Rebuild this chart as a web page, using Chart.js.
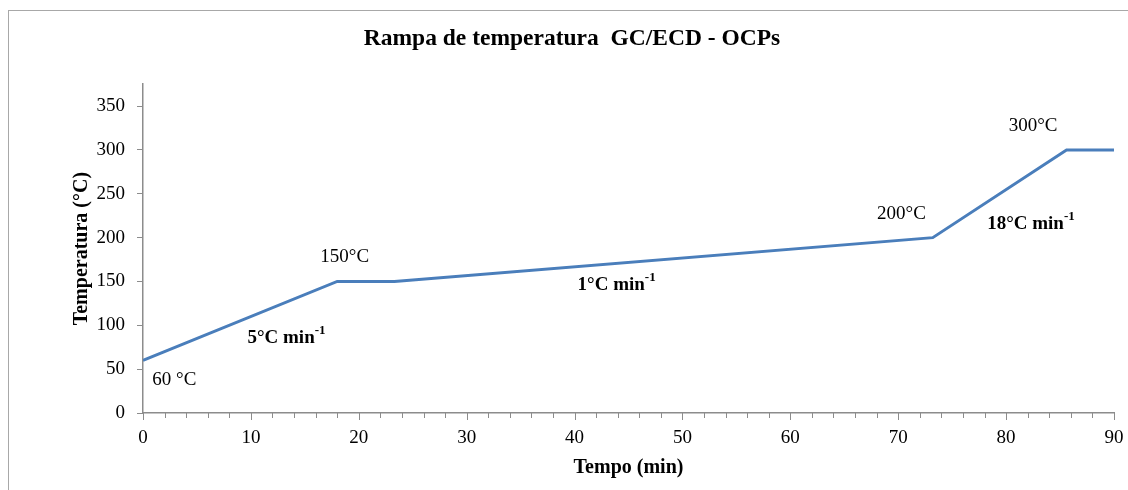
<!DOCTYPE html>
<html>
<head>
<meta charset="utf-8">
<script src="https://cdn.jsdelivr.net/npm/chart.js"></script>
<style>
  html, body { margin: 0; padding: 0; background: #fff; overflow: hidden; }
  #wrap { position: relative; width: 1128px; height: 490px; }
  #frame { position: absolute; left: 8px; top: 10px; width: 1200px; height: 600px; border: 1px solid #a8a8a8; }
  canvas { position: absolute; left: 0; top: 0; }
</style>
</head>
<body>
<div id="wrap">
  <div id="frame"></div>
  <canvas id="chart" width="1128" height="490"></canvas>
</div>
<script>
// temperature program of the oven
const timeMin = [0, 18, 23.3, 73.2, 85.6, 90];
const tempC = [60, 150, 150, 200, 300, 300];

// annotations along the ramp (text, superscript, bold, x in min, y in °C)
const noteText = ['60 °C', '5°C min', '150°C', '1°C min', '200°C', '18°C min', '300°C'];
const noteSup = ['', '-1', '', '-1', '', '-1', ''];
const noteBold = [false, true, false, true, false, true, false];
const noteX = [2.9, 13.3, 18.7, 43.9, 70.3, 82.3, 82.5];
const noteY = [37.6, 85.8, 178, 146, 227, 216, 327];

const yTicks = [0, 50, 100, 150, 200, 250, 300, 350];

const serif = '"Liberation Serif", "Times New Roman", serif';
const axisGrey = '#8c8c8c';

// tick marks on the time axis: long every 10 min, short every 2 min
const xTickMarks = {
  id: 'xTickMarks',
  afterDraw(chart) {
    const ctx = chart.ctx;
    const xs = chart.scales.x;
    const y0 = chart.chartArea.bottom;
    ctx.save();
    ctx.strokeStyle = axisGrey;
    ctx.lineWidth = 1;
    for (let v = 0; v <= 90; v += 2) {
      const px = Math.round(xs.getPixelForValue(v)) + 0.5;
      const len = v % 10 === 0 ? 7 : 5;
      ctx.beginPath();
      ctx.moveTo(px, y0);
      ctx.lineTo(px, y0 + len);
      ctx.stroke();
    }
    ctx.restore();
  }
};

// text labels placed in data coordinates
const rampNotes = {
  id: 'rampNotes',
  afterDatasetsDraw(chart) {
    const ctx = chart.ctx;
    const xs = chart.scales.x, ys = chart.scales.y;
    ctx.save();
    ctx.fillStyle = '#000';
    ctx.textBaseline = 'middle';
    ctx.textAlign = 'left';
    noteText.forEach((t, i) => {
      const weight = noteBold[i] ? 'bold ' : '';
      const mainFont = weight + '19px ' + serif;
      const supFont = weight + '13px ' + serif;
      ctx.font = mainFont;
      const w1 = ctx.measureText(t).width;
      ctx.font = supFont;
      const w2 = noteSup[i] ? ctx.measureText(noteSup[i]).width : 0;
      const cx = xs.getPixelForValue(noteX[i]);
      const cy = ys.getPixelForValue(noteY[i]);
      const left = cx - (w1 + w2) / 2;
      ctx.font = mainFont;
      ctx.fillText(t, left, cy);
      if (noteSup[i]) {
        ctx.font = supFont;
        ctx.fillText(noteSup[i], left + w1, cy - 7);
      }
    });
    ctx.restore();
  }
};

new Chart(document.getElementById('chart'), {
  type: 'line',
  data: {
    datasets: [{
      data: timeMin.map((t, i) => ({ x: t, y: tempC[i] })),
      borderColor: '#4a7ebb',
      borderWidth: 3,
      pointRadius: 0,
      fill: false,
      tension: 0
    }]
  },
  options: {
    responsive: false,
    animation: false,
    layout: { padding: { left: 16, right: 0, top: 0, bottom: 0 } },
    plugins: {
      legend: { display: false },
      tooltip: { enabled: false },
      title: {
        display: true,
        text: 'Rampa de temperatura  GC/ECD - OCPs',
        color: '#000',
        font: { family: serif, size: 23.5, weight: 'bold' },
        padding: { top: 25, bottom: 31 }
      }
    },
    scales: {
      x: {
        type: 'linear',
        min: 0,
        max: 90,
        grid: { display: false, drawTicks: false },
        border: { display: true, color: axisGrey, width: 1.5 },
        ticks: {
          stepSize: 10,
          padding: 14,
          maxRotation: 0,
          color: '#000',
          font: { family: serif, size: 19 }
        },
        title: {
          display: true,
          text: 'Tempo (min)',
          color: '#000',
          font: { family: serif, size: 20, weight: 'bold' },
          padding: { top: 0, bottom: 10 }
        },
        afterFit(scale) {
          scale.height = 77;
          scale.paddingLeft = 0;
          scale.paddingRight = 14;
        }
      },
      y: {
        min: 0,
        max: 375,
        grid: { drawOnChartArea: false, drawTicks: true, tickLength: 6, color: axisGrey },
        border: { display: true, color: axisGrey, width: 1.5 },
        afterBuildTicks(scale) {
          scale.ticks = yTicks.map(v => ({ value: v }));
        },
        ticks: {
          padding: 12,
          color: '#000',
          font: { family: serif, size: 19 }
        },
        title: {
          display: true,
          text: 'Temperatura (°C)',
          color: '#000',
          font: { family: serif, size: 20, weight: 'bold' },
          padding: { top: 54, bottom: 0 }
        },
        afterFit(scale) {
          scale.width = 127;
          scale.paddingTop = 0;
          scale.paddingBottom = 0;
        }
      }
    }
  },
  plugins: [xTickMarks, rampNotes]
});
</script>
</body>
</html>
